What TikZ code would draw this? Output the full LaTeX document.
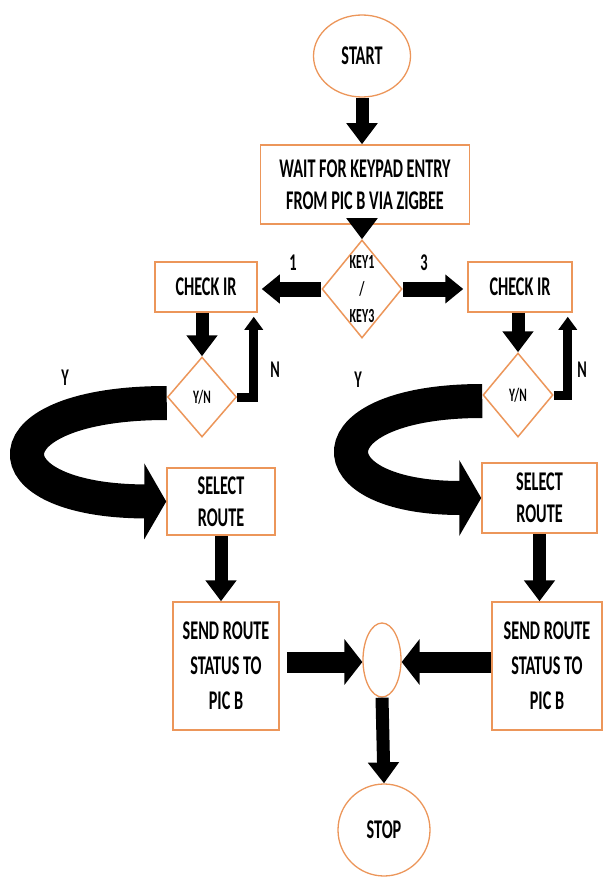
\documentclass[tikz,border=0pt]{standalone}
\usepackage{fontspec}
\setmainfont{Carlito}[FakeStretch=0.6]
\usetikzlibrary{shapes.geometric,arrows.meta,calc}
\definecolor{boxorange}{RGB}{236,150,90}
\tikzset{
  box/.style={draw=boxorange, line width=1.5pt, fill=white, align=center, inner sep=0pt,
    font=\bfseries\fontsize{27}{32}\selectfont},
  tallbox/.style={box, font=\bfseries\fontsize{27}{35}\selectfont},
  term/.style={ellipse, draw=boxorange, line width=1.3pt, fill=white, inner sep=0pt,
    font=\bfseries\fontsize{27}{30}\selectfont},
  dia/.style={diamond, draw=boxorange, line width=1.5pt, fill=white, inner sep=0pt},
  keytext/.style={align=center, inner sep=0pt, font=\bfseries\fontsize{20}{27}\selectfont},
  yntext/.style={inner sep=0pt, font=\bfseries\fontsize{19}{20}\selectfont},
  lbl/.style={inner sep=0pt, font=\bfseries\fontsize{24}{26}\selectfont},
  arrA/.style={line width=13pt, -{Triangle[width=30pt,length=21pt]}},
  arrB/.style={line width=15pt, -{Triangle[width=28pt,length=18pt]}, shorten >=4pt},
  arrC/.style={line width=21pt, -{Triangle[width=45pt,length=18pt]}},
  arrN/.style={line width=9pt, -{Triangle[width=18pt,length=13pt]}, shorten >=4pt},
  arrBig/.style={line width=34pt, -{Triangle[width=75pt,length=22pt]}},
}
\begin{document}
\begin{tikzpicture}[x=1pt,y=-1pt]
\useasboundingbox (0,0) rectangle (603,877);
% nodes
\node[term, minimum width=97pt, minimum height=82pt] (start) at (362,56) {START};
\node[box, minimum width=209pt, minimum height=79pt] (wait) at (365,184.5) {WAIT FOR KEYPAD ENTRY\\FROM PIC B VIA ZIGBEE};
\node[dia, minimum width=80pt, minimum height=98pt, label={[keytext]center:{KEY1\\/\\KEY3}}] (key) at (362,289) {};
\node[box, minimum width=102pt, minimum height=50pt] (checkL) at (206,287) {CHECK IR};
\node[box, minimum width=104pt, minimum height=50pt] (checkR) at (520,287) {CHECK IR};
\node[dia, minimum width=69pt, minimum height=80pt, label={[yntext]center:Y/N}] (ynL) at (202,397) {};
\node[dia, minimum width=70pt, minimum height=84pt, label={[yntext]center:Y/N}] (ynR) at (518,395) {};
\node[box, minimum width=108pt, minimum height=67pt] (selL) at (221,501.5) {SELECT\\ROUTE};
\node[box, minimum width=115pt, minimum height=70pt] (selR) at (539.5,498) {SELECT\\ROUTE};
\node[tallbox, minimum width=106pt, minimum height=128pt] (sendL) at (226,666) {SEND ROUTE\\STATUS TO\\PIC B};
\node[tallbox, minimum width=110pt, minimum height=128pt] (sendR) at (547,666) {SEND ROUTE\\STATUS TO\\PIC B};
\node[term, minimum width=38pt, minimum height=74pt] (mid) at (382,660) {};
\node[term, minimum width=92pt, minimum height=92pt] (stop) at (384,830) {STOP};
% labels
\node[lbl] (l1) at (293,263) {1};
\node[lbl] (l3) at (424,263) {3};
\node[lbl] (nL) at (275,370) {N};
\node[lbl] (nR) at (582,370) {N};
\node[lbl] (yL) at (65,378) {Y};
\node[lbl] (yR) at (358,380) {Y};
% connectors
\draw[arrA] (start.south) -- (start.south |- wait.north);
\draw[arrA] (key.north |- wait.south) -- (key.north);
\draw[arrB] (key.west) -- (key.west -| checkL.east);
\draw[arrB] (key.east) -- (key.east -| checkR.west);
\draw[arrA] (ynL.north |- checkL.south) -- (ynL.north);
\draw[arrA] (ynR.north |- checkR.south) -- (ynR.north);
\draw[arrN] (ynL.east) -| ([xshift=-4pt]checkL.south east);
\draw[arrN] (ynR.east) -| ([xshift=-5pt]checkR.south east);
\draw[arrBig] ([yshift=-6pt]ynL.west) .. controls (-16,403) and (-16,501) .. (selL.west);
\draw[arrBig] ([yshift=-6pt]ynR.west) .. controls (311,401) and (311,498) .. (selR.west);
\draw[arrA] (selL.south) -- (selL.south |- sendL.north);
\draw[arrA] (selR.south) -- (selR.south |- sendR.north);
\draw[arrC] ($(sendL.east |- mid.west)+(7,2)$) -- ($(mid.west)+(0,2)$);
\draw[arrC] ($(sendR.west |- mid.east)+(0,2)$) -- ($(mid.east)+(0,2)$);
\draw[arrA] (mid.south) -- (stop.north);
\end{tikzpicture}
\end{document}
